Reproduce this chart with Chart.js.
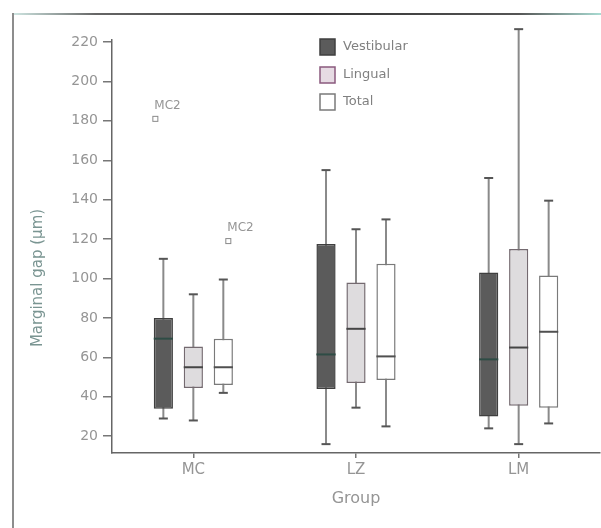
<!DOCTYPE html>
<html><head><meta charset="utf-8">
<script src="https://cdn.jsdelivr.net/npm/chart.js@4/dist/chart.umd.min.js"></script>
<style>
html,body{margin:0;padding:0;background:#fff;}
#wrap{position:relative;width:601px;height:528px;overflow:hidden;}
#frameTop{position:absolute;left:13px;top:13px;width:588px;height:2px;background:linear-gradient(to right,#cfe6e2 0%,#666 14%,#333 50%,#555 86%,#a9dcd3 100%);}
#frameLeft{position:absolute;left:12px;top:13px;width:2px;height:515px;background:#8d8d8d;}
canvas{position:absolute;left:0;top:0;}
</style></head>
<body><div id="wrap"><div id="frameTop"></div><div id="frameLeft"></div><canvas id="c" width="601" height="528"></canvas></div>
<script>
// ---- data ----
const categories = ['MC', 'LZ', 'LM'];
const seriesNames = ['Vestibular', 'Lingual', 'Total'];
// each row: [min, q1, median, q3, max] for MC, LZ, LM
const vestibularStats = [[29, 34, 69.5, 80, 110], [16, 44, 61.5, 117.5, 155], [24, 30, 59, 103, 151]];
const lingualStats    = [[28, 44.5, 55, 65.5, 92], [34.5, 47, 74.5, 98, 125], [16, 35.5, 65, 115, 226.5]];
const totalStats      = [[42, 46, 55, 69.5, 99.5], [25, 48.5, 60.5, 107.5, 130], [26.5, 34.5, 73, 101.5, 139.5]];
const outlierSeries   = [0, 2];
const outlierCategory = [0, 0];
const outlierValues   = [181, 119];
const outlierLabels   = ['MC2', 'MC2'];
const yTicks = [20, 40, 60, 80, 100, 120, 140, 160, 180, 200, 220];
const yTitle = 'Marginal gap (µm)';
const xTitle = 'Group';

const allStats = [vestibularStats, lingualStats, totalStats];
const fills   = ['#5b5b5b', '#dedcde', '#ffffff'];
const borders = ['#3f3f3f', '#746a70', '#7a7a7a'];
const medianColors = ['#2e4c45', '#454545', '#505050'];
const FONT = 'DejaVu Sans';
const TEXT = '#959595';

const boxPlugin = {
  id: 'boxplot',
  beforeDatasetsDraw(chart) {
    const ctx = chart.ctx, y = chart.scales.y;
    allStats.forEach((stats, i) => {
      const meta = chart.getDatasetMeta(i);
      meta.data.forEach((el, j) => {
        const s = stats[j];
        const x = el.x;
        ctx.save();
        ctx.strokeStyle = '#8a8a8a';
        ctx.lineWidth = 2;
        ctx.beginPath();
        ctx.moveTo(x, y.getPixelForValue(s[0]));
        ctx.lineTo(x, y.getPixelForValue(s[4]));
        ctx.stroke();
        ctx.strokeStyle = '#555';
        const cw = 4.5;
        [s[0], s[4]].forEach(v => {
          const py = y.getPixelForValue(v);
          ctx.beginPath(); ctx.moveTo(x - cw, py); ctx.lineTo(x + cw, py); ctx.stroke();
        });
        ctx.restore();
      });
    });
  },
  afterDatasetsDraw(chart) {
    const ctx = chart.ctx, y = chart.scales.y;
    // medians
    allStats.forEach((stats, i) => {
      const meta = chart.getDatasetMeta(i);
      meta.data.forEach((el, j) => {
        const py = y.getPixelForValue(stats[j][2]);
        ctx.save();
        ctx.strokeStyle = medianColors[i];
        ctx.lineWidth = 2;
        ctx.beginPath();
        ctx.moveTo(el.x - el.width / 2, py);
        ctx.lineTo(el.x + el.width / 2, py);
        ctx.stroke();
        ctx.restore();
      });
    });
    // outliers
    outlierValues.forEach((v, k) => {
      const el = chart.getDatasetMeta(outlierSeries[k]).data[outlierCategory[k]];
      const px = el.x - (outlierSeries[k] === 0 ? 8 : -5), py = y.getPixelForValue(v);
      ctx.save();
      ctx.strokeStyle = '#8a8a8a';
      ctx.lineWidth = 1;
      ctx.strokeRect(px - 2.5, py - 2.5, 5, 5);
      ctx.fillStyle = TEXT;
      ctx.font = '12px ' + FONT;
      ctx.textAlign = 'left';
      ctx.textBaseline = 'middle';
      ctx.fillText(outlierLabels[k], px - 1, py - 13);
      ctx.restore();
    });
    // legend
    const lx = 320, rows = [47, 75, 102];
    seriesNames.forEach((name, i) => {
      ctx.save();
      ctx.fillStyle = i === 1 ? '#e6dbe3' : fills[i];
      ctx.fillRect(lx, rows[i] - 8, 15, 16);
      ctx.strokeStyle = i === 1 ? '#8a5a7e' : borders[i];
      ctx.lineWidth = 1.5;
      ctx.strokeRect(lx, rows[i] - 8, 15, 16);
      ctx.fillStyle = '#808080';
      ctx.font = '13px ' + FONT;
      ctx.textAlign = 'left';
      ctx.textBaseline = 'middle';
      ctx.fillText(name, lx + 23, rows[i]);
      ctx.restore();
    });
    // y title
    ctx.save();
    ctx.translate(38, 278);
    ctx.rotate(-Math.PI / 2);
    ctx.fillStyle = '#7a9592';
    ctx.font = '15px ' + FONT;
    ctx.textAlign = 'center';
    ctx.textBaseline = 'middle';
    ctx.fillText(yTitle, 0, 0);
    ctx.restore();
  }
};

new Chart(document.getElementById('c'), {
  type: 'bar',
  data: {
    labels: categories,
    datasets: seriesNames.map((name, i) => ({
      label: name,
      data: allStats[i].map(s => [s[1], s[3]]),
      backgroundColor: fills[i],
      borderColor: borders[i],
      borderWidth: 1.5,
      borderSkipped: false,
      categoryPercentage: 0.553,
      barPercentage: 0.64
    }))
  },
  options: {
    responsive: false,
    animation: false,
    devicePixelRatio: 1,
    layout: { padding: { left: 25, top: 40, right: 1, bottom: 16 } },
    plugins: { legend: { display: false }, tooltip: { enabled: false } },
    scales: {
      x: {
        afterFit: s => { s.height = 59; },
        grid: { drawOnChartArea: false, offset: false, tickLength: 5, color: '#777', lineWidth: 1.5 },
        border: { color: '#666', width: 1.5 },
        ticks: { color: TEXT, font: { family: FONT, size: 15 }, padding: 3 },
        title: { display: true, text: xTitle, color: TEXT, font: { family: FONT, size: 16 }, padding: { top: 0, bottom: 4 } }
      },
      y: {
        min: 11.5,
        max: 221,
        afterBuildTicks: s => { s.ticks = yTicks.map(v => ({ value: v })); },
        afterFit: s => { s.width = 87; },
        grid: { drawOnChartArea: false, tickLength: 9, color: '#777', lineWidth: 1.5 },
        border: { color: '#666', width: 1.5 },
        ticks: { color: TEXT, font: { family: FONT, size: 14 }, padding: 5 }
      }
    }
  },
  plugins: [boxPlugin]
});
</script>
</body></html>
